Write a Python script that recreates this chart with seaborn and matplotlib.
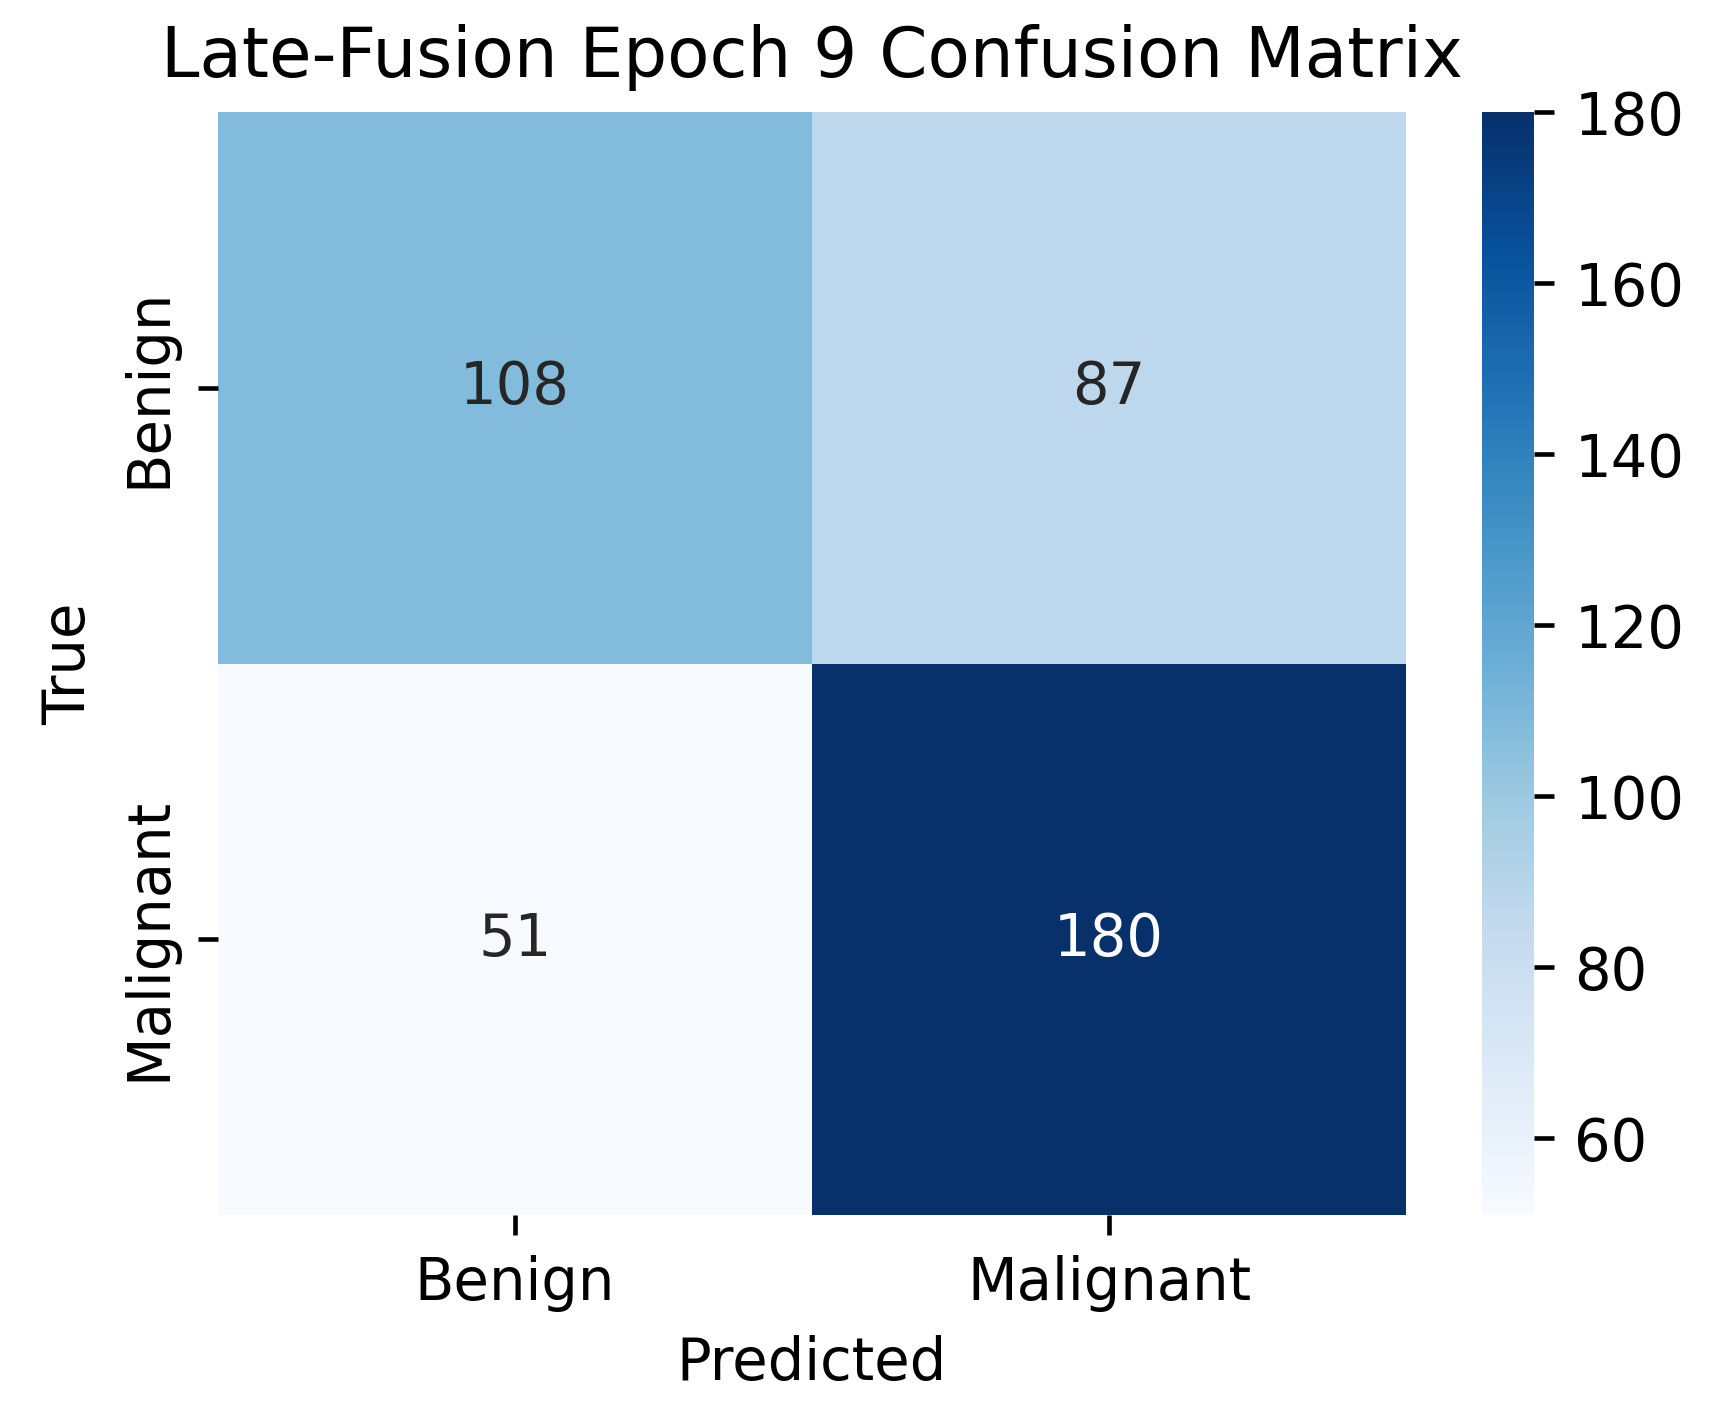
import numpy as np
import pandas as pd
import matplotlib
matplotlib.use("Agg")
import matplotlib.pyplot as plt
import seaborn as sns

# Confusion matrix values
class_names = ["Benign", "Malignant"]
row_benign = [108, 87]
row_malignant = [51, 180]

cm = pd.DataFrame([row_benign, row_malignant], index=class_names, columns=class_names)

DPI = 415
fig = plt.figure(figsize=(1710 / DPI, 1415 / DPI), dpi=DPI)
ax = fig.add_axes([0.1275, 0.1413, 0.6947, 0.7795])
cax = fig.add_axes([0.8667, 0.1413, 0.0304, 0.7795])

sns.heatmap(cm, annot=True, fmt="d", cmap="Blues", ax=ax, cbar_ax=cax)

ax.set_xlabel("Predicted")
ax.set_ylabel("True")
ax.set_title("Late-Fusion Epoch 9 Confusion Matrix")

fig.savefig("out.png", dpi=DPI)
